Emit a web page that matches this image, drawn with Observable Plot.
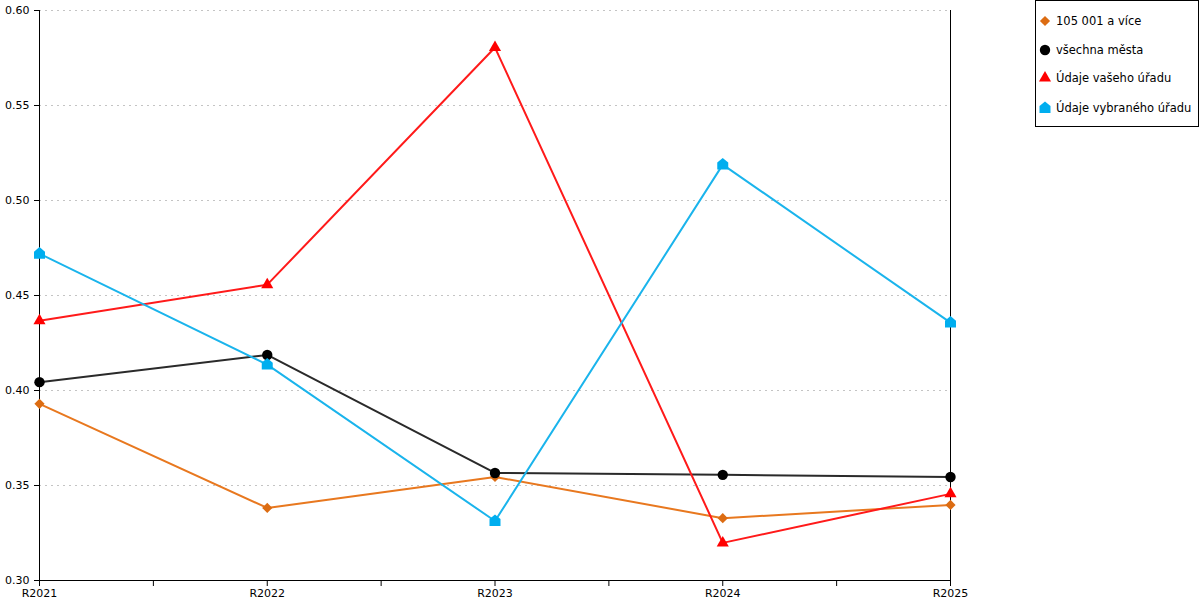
<!DOCTYPE html>
<html>
<head>
<meta charset="utf-8">
<script src="https://cdn.jsdelivr.net/npm/d3@7"></script>
<script src="https://cdn.jsdelivr.net/npm/@observablehq/plot@0.6"></script>
<style>
  html, body { margin: 0; padding: 0; background: #fff; }
  #wrap { position: relative; width: 1200px; height: 600px; font-family: "DejaVu Sans", Verdana, sans-serif; }
  #legend { position: absolute; left: 1035px; top: 0px; width: 162px; height: 125px; border: 1px solid #000; background: #fff; font-size: 11.5px; color: #000; }
  .row { position: absolute; left: 0; height: 16px; display: flex; align-items: center; white-space: nowrap; }
  .row svg { margin-left: 2px; margin-right: 4px; }
</style>
</head>
<body>
<div id="wrap"><div id="legend"></div></div>
<script>
// ---- data ----
const years = ["R2021", "R2022", "R2023", "R2024", "R2025"];
const seriesNames = ["105 001 a více", "všechna města", "Údaje vašeho úřadu", "Údaje vybraného úřadu"];
const valuesOrange = [0.3930, 0.3382, 0.3545, 0.3328, 0.3398];
const valuesBlack  = [0.4044, 0.4187, 0.3566, 0.3556, 0.3545];
const valuesRed    = [0.4367, 0.4557, 0.5805, 0.3198, 0.3456];
const valuesBlue   = [0.4720, 0.4136, 0.3313, 0.5189, 0.4357];
const yTicks = [0.30, 0.35, 0.40, 0.45, 0.50, 0.55, 0.60];

// ---- styling ----
const house = {
  draw(ctx, size) {
    const s = Math.sqrt(size);
    const h = s / 2;
    ctx.moveTo(0, -0.6 * s);
    ctx.lineTo(h, -0.18 * s);
    ctx.lineTo(h, 0.45 * s);
    ctx.lineTo(-h, 0.45 * s);
    ctx.lineTo(-h, -0.18 * s);
    ctx.closePath();
  }
};
const styles = [
  {values: valuesOrange, line: "#e8781f", fill: "#dc6c12", symbol: "diamond2", r: 4.6},
  {values: valuesBlack,  line: "#2a2a2a", fill: "#000000", symbol: "circle",   r: 5.2},
  {values: valuesRed,    line: "#ff1a1a", fill: "#ff0000", symbol: "triangle", r: 4.5},
  {values: valuesBlue,   line: "#1ab4ec", fill: "#00aeef", symbol: house,      r: 6.2}
];

const marks = [
  Plot.gridY(yTicks.slice(1), {stroke: "#c4c4c4", strokeOpacity: 1, strokeDasharray: "2,4"}),
  Plot.axisY(yTicks, {tickFormat: d3.format(".2f"), tickSize: 5, tickPadding: 5, label: null, fill: "#000"}),
  Plot.axisX(d3.range(0, years.length - 0.5, 0.5), {
    tickFormat: d => Number.isInteger(d) ? years[d] : "",
    tickSize: 6, tickPadding: 3, label: null, fill: "#000"
  }),
  Plot.ruleY([yTicks[0]], {stroke: "#000"}),
  Plot.ruleX([0, years.length - 1], {stroke: "#000", y1: yTicks[0], y2: yTicks[yTicks.length - 1]})
];

styles.forEach((s, k) => {
  const rows = s.values.map((v, i) => ({i, v, series: seriesNames[k]}));
  marks.push(Plot.line(rows, {x: "i", y: "v", stroke: s.line, strokeWidth: 2}));
  marks.push(Plot.dot(rows, {x: "i", y: "v", symbol: s.symbol, r: s.r, fill: s.fill, stroke: "none"}));
});

const chart = Plot.plot({
  width: 1200,
  height: 600,
  marginLeft: 39,
  marginRight: 250,
  marginTop: 10,
  marginBottom: 20,
  style: {fontFamily: "DejaVu Sans, Verdana, sans-serif", fontSize: "11px", color: "#000", background: "transparent", overflow: "visible"},
  x: {type: "linear", domain: [0, years.length - 1]},
  y: {domain: [yTicks[0], yTicks[yTicks.length - 1]]},
  marks
});
chart.style.position = "absolute";
chart.style.left = "0px";
chart.style.top = "0px";
document.getElementById("wrap").prepend(chart);

// ---- legend ----
const legend = document.getElementById("legend");
const rowTops = [12, 41, 69, 99];
styles.forEach((s, k) => {
  const row = document.createElement("div");
  row.className = "row";
  row.style.top = rowTops[k] + "px";
  const sym = typeof s.symbol === "string"
    ? {diamond2: d3.symbolDiamond2, circle: d3.symbolCircle, triangle: d3.symbolTriangle}[s.symbol]
    : s.symbol;
  const path = d3.symbol(sym, s.r * s.r * Math.PI)();
  const svg = d3.create("svg").attr("width", 14).attr("height", 16);
  svg.append("path").attr("d", path).attr("fill", s.fill).attr("transform", "translate(7,8)");
  row.appendChild(svg.node());
  const t = document.createElement("span");
  t.textContent = seriesNames[k];
  row.appendChild(t);
  legend.appendChild(row);
});
</script>
</body>
</html>
